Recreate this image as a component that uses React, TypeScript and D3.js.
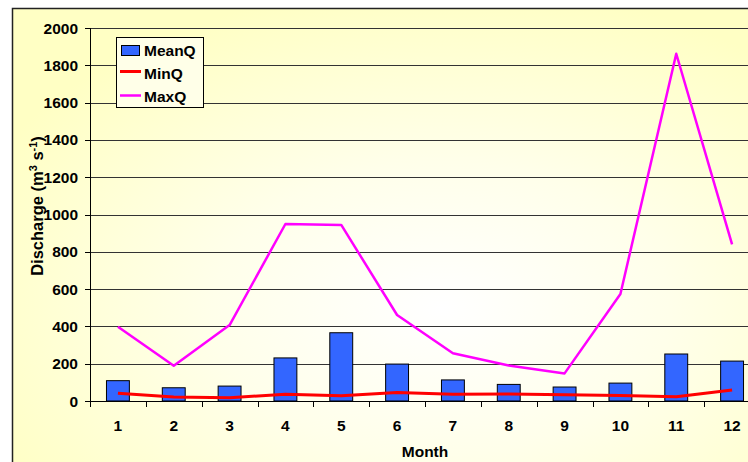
import React from "react";
import * as d3 from "d3";

const months = ["1", "2", "3", "4", "5", "6", "7", "8", "9", "10", "11", "12"];
const meanQ = [109, 71, 80, 231, 366, 198, 113, 89, 75, 96, 252, 214];
const minQ = [41, 21, 18, 36, 28, 45, 36, 38, 34, 30, 23, 59];
const maxQ = [398, 189, 407, 949, 944, 461, 256, 190, 148, 574, 1862, 840];
const yTicks = [0, 200, 400, 600, 800, 1000, 1200, 1400, 1600, 1800, 2000];

const W = 748;
const H = 462;
const plotLeft = 90;
const plotRight = 760;
const plotTop = 28;
const plotBottom = 401;
const font = "'Liberation Sans', Arial, sans-serif";
const fs = 15.5;

export default function App() {
  const x = d3.scaleBand<string>().domain(months).range([plotLeft, plotRight]).paddingInner(0).paddingOuter(0);
  const y = d3.scaleLinear().domain([0, 2000]).range([plotBottom, plotTop]);
  const bw = x.bandwidth();
  const barW = bw * 0.41;
  const cx = (m: string) => (x(m) as number) + bw / 2;
  const line = d3
    .line<number>()
    .x((_, i) => cx(months[i]))
    .y((d) => y(d));

  return (
    <svg
      width={W}
      height={H}
      style={{ position: "absolute", left: 0, top: 0, display: "block" }}
    >
      <defs>
        <radialGradient id="bg" cx="0.55" cy="0.6" r="0.65">
          <stop offset="0" stopColor="#FFFFFF" />
          <stop offset="0.45" stopColor="#FFFFEA" />
          <stop offset="1" stopColor="#FFFFC4" />
        </radialGradient>
      </defs>
      <rect x={0} y={0} width={W} height={H} fill="#FFFFFF" />
      <rect x={12.5} y={8.5} width={780} height={500} fill="url(#bg)" stroke="#222" strokeWidth={1.5} />

      {/* gridlines */}
      {yTicks.map((t) => (
        <line
          key={"g" + t}
          x1={plotLeft}
          x2={plotRight}
          y1={Math.round(y(t)) + 0.5}
          y2={Math.round(y(t)) + 0.5}
          stroke="#333"
          strokeWidth={1}
        />
      ))}

      {/* bars */}
      {meanQ.map((v, i) => (
        <rect
          key={"b" + i}
          x={cx(months[i]) - barW / 2}
          y={y(v)}
          width={barW}
          height={plotBottom - y(v)}
          fill="#3366FF"
          stroke="#000"
          strokeWidth={1}
        />
      ))}

      {/* axes */}
      <line x1={plotLeft + 0.5} x2={plotLeft + 0.5} y1={plotTop} y2={plotBottom} stroke="#000" strokeWidth={1} />
      <line x1={plotLeft} x2={plotRight} y1={plotBottom + 0.5} y2={plotBottom + 0.5} stroke="#000" strokeWidth={1} />
      {yTicks.map((t) => (
        <g key={"yt" + t}>
          <line x1={plotLeft - 5} x2={plotLeft} y1={Math.round(y(t)) + 0.5} y2={Math.round(y(t)) + 0.5} stroke="#000" />
          <text
            x={78}
            y={y(t)}
            dy="0.36em"
            textAnchor="end"
            fontFamily={font}
            fontWeight="bold"
            fontSize={fs}
            fill="#000"
          >
            {t}
          </text>
        </g>
      ))}
      {months.map((m) => (
        <g key={"xt" + m}>
          <line
            x1={Math.round(x(m) as number) + 0.5}
            x2={Math.round(x(m) as number) + 0.5}
            y1={plotBottom}
            y2={plotBottom + 6}
            stroke="#000"
          />
          <text
            x={cx(m)}
            y={431}
            textAnchor="middle"
            fontFamily={font}
            fontWeight="bold"
            fontSize={fs}
            fill="#000"
          >
            {m}
          </text>
        </g>
      ))}

      {/* lines */}
      <path d={line(minQ) || ""} fill="none" stroke="#FF0000" strokeWidth={3} strokeLinejoin="round" />
      <path d={line(maxQ) || ""} fill="none" stroke="#FF00FF" strokeWidth={2.5} strokeLinejoin="round" />

      {/* axis titles */}
      <text
        x={425}
        y={457}
        textAnchor="middle"
        fontFamily={font}
        fontWeight="bold"
        fontSize={fs}
        fill="#000"
      >
        Month
      </text>
      <text
        transform={`translate(43, 206) rotate(-90)`}
        textAnchor="middle"
        fontFamily={font}
        fontWeight="bold"
        fontSize={16.5}
        fill="#000"
      >
        Discharge (m<tspan dy="-6" fontSize={11}>3</tspan>
        <tspan dy="6"> s</tspan>
        <tspan dy="-6" fontSize={11}>-1</tspan>
        <tspan dy="6">)</tspan>
      </text>

      {/* legend */}
      <rect x={116.5} y={37.5} width={87} height={70} fill="#FFFFE8" stroke="#000" strokeWidth={1} />
      <rect x={121.5} y={45.5} width={18} height={10} fill="#3366FF" stroke="#000" />
      <text x={144} y={55.5} fontFamily={font} fontWeight="bold" fontSize={fs} fill="#000">MeanQ</text>
      <line x1={120} x2={141} y1={71.5} y2={71.5} stroke="#FF0000" strokeWidth={3} />
      <text x={144} y={79} fontFamily={font} fontWeight="bold" fontSize={fs} fill="#000">MinQ</text>
      <line x1={120} x2={141} y1={95.5} y2={95.5} stroke="#FF00FF" strokeWidth={2.5} />
      <text x={144} y={102} fontFamily={font} fontWeight="bold" fontSize={fs} fill="#000">MaxQ</text>
    </svg>
  );
}
